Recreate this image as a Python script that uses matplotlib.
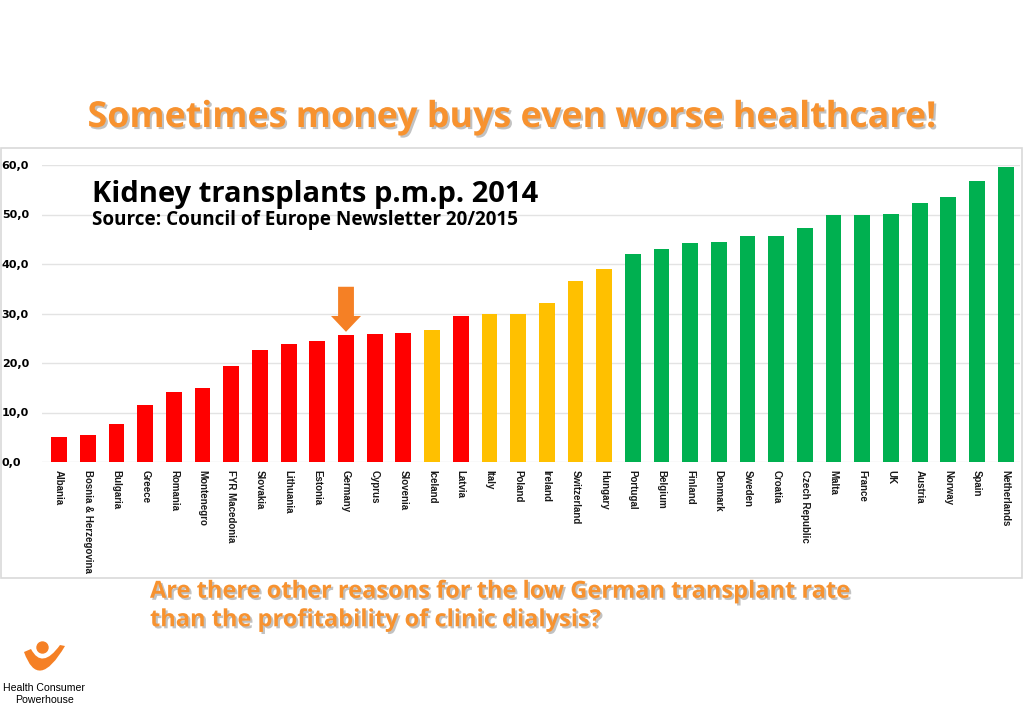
import matplotlib
matplotlib.use("Agg")
import matplotlib.pyplot as plt
import matplotlib.patches as mpatches
import matplotlib.patheffects as pe
from matplotlib import font_manager
from matplotlib.path import Path

# data (kidney transplants per million population, 2014)
countries = ["Albania", "Bosnia & Herzegovina", "Bulgaria", "Greece", "Romania",
             "Montenegro", "FYR Macedonia", "Slovakia", "Lithuania", "Estonia",
             "Germany", "Cyprus", "Slovenia", "Iceland", "Latvia", "Italy", "Poland",
             "Ireland", "Switzerland", "Hungary", "Portugal", "Belgium", "Finland",
             "Denmark", "Sweden", "Croatia", "Czech Republic", "Malta", "France", "UK",
             "Austria", "Norway", "Spain", "Netherlands"]
values = [5.0, 5.4, 7.7, 11.6, 14.2, 14.9, 19.3, 22.6, 23.9, 24.4,
          25.6, 25.8, 26.0, 26.6, 29.5, 30.0, 30.0, 32.1, 36.5, 38.9,
          42.1, 43.1, 44.2, 44.4, 45.6, 45.6, 47.2, 49.8, 49.8, 50.2,
          52.3, 53.5, 56.8, 59.6]
groups = ["r"] * 13 + ["y", "r", "y", "y", "y", "y", "y"] + ["g"] * 14
yticks = [0, 10, 20, 30, 40, 50, 60]

colmap = {"r": "#FF0000", "y": "#FFC000", "g": "#00B050"}
orange = "#F7922F"

# narrow font for country labels if we have it
installed = {f.name for f in font_manager.fontManager.ttflist}
if "Liberation Sans Narrow" in installed:
    lab_font, lab_size = "Liberation Sans Narrow", 8.4
else:
    lab_font, lab_size = "Liberation Sans", 7.0

fig = plt.figure(figsize=(10.24, 7.09), dpi=100)

# overlay in pixel coords for frame + logo
ov = fig.add_axes([0, 0, 1, 1])
ov.set_xlim(0, 1024)
ov.set_ylim(709, 0)
ov.axis("off")
ov.add_patch(mpatches.Rectangle((1, 148), 1021, 430, fill=False,
                                edgecolor="#D9D9D9", linewidth=1.2))

ax = fig.add_axes([42 / 1024, 1 - 462 / 709, 978 / 1024, 297 / 709])
x = list(range(len(countries)))
ax.bar(x, values, width=0.55, color=[colmap[g] for g in groups], zorder=3)
ax.set_xlim(-0.6, len(countries) - 0.5)
ax.set_ylim(0, 60)
ax.set_yticks(yticks)
ax.set_yticklabels([f"{v:.1f}".replace(".", ",") for v in yticks],
                   fontsize=8, fontweight="bold", ha="left")
ax.tick_params(axis="y", length=0, pad=29)
ax.yaxis.grid(True, color="#E3E3E3", linewidth=1)
ax.set_axisbelow(True)
for s in ax.spines.values():
    s.set_visible(False)
ax.set_xticks(x)
ax.set_xticklabels(countries, rotation=-90, fontsize=lab_size, fontweight="bold",
                   va="top", ha="center", color="#1A1A1A",
                   family=[lab_font, "DejaVu Sans"])
ax.tick_params(axis="x", length=0, pad=6)

# arrow pointing at Germany
gi = countries.index("Germany")
ax.annotate("", xy=(gi, 26.3), xytext=(gi, 35.4),
            arrowprops=dict(arrowstyle="simple,head_length=0.95,head_width=1.8,tail_width=0.95",
                            color="#F58025", lw=0, mutation_scale=12,
                            shrinkA=0, shrinkB=0))

ax.text(0.051, 0.90, "Kidney transplants p.m.p. 2014", transform=ax.transAxes,
        fontsize=21, fontweight="bold", va="center", ha="left",
        family=["Open Sans", "DejaVu Sans"])
ax.text(0.051, 0.815, "Source: Council of Europe Newsletter 20/2015", transform=ax.transAxes,
        fontsize=13.6, fontweight="bold", va="center", ha="left",
        family=["Open Sans", "DejaVu Sans"])

shadow = [pe.withSimplePatchShadow(offset=(1.5, -1.5), shadow_rgbFace="#9A9A9A", alpha=0.6)]
fig.text(0.5, 1 - 118 / 709, "Sometimes money buys even worse healthcare!",
         fontsize=25.8, fontweight="bold", color=orange, ha="center", va="center",
         family=["Open Sans", "DejaVu Sans"], path_effects=shadow)
fig.text(150 / 1024, 1 - 606 / 709,
         "Are there other reasons for the low German transplant rate\nthan the profitability of clinic dialysis?",
         fontsize=17, fontweight="bold", color=orange, ha="left", va="center",
         linespacing=1.25, family=["Open Sans", "DejaVu Sans"], path_effects=shadow)

# logo
ov.add_patch(mpatches.Circle((42.5, 647.5), 5.5, color="#F58025"))
swoosh = Path([(24, 652), (38, 692), (65, 646), (60, 645), (42, 670), (31, 649), (24, 652)],
              [Path.MOVETO, Path.CURVE3, Path.CURVE3, Path.LINETO, Path.CURVE3, Path.CURVE3,
               Path.CLOSEPOLY])
ov.add_patch(mpatches.PathPatch(swoosh, color="#F58025", lw=0))
ov.text(44, 688, "Health Consumer", fontsize=7.6, ha="center", va="center",
        family=["Liberation Sans", "DejaVu Sans"])
ov.text(44, 700, "Powerhouse", fontsize=7.6, ha="center", va="center",
        family=["Liberation Sans", "DejaVu Sans"])

fig.savefig("out.png", dpi=100)
